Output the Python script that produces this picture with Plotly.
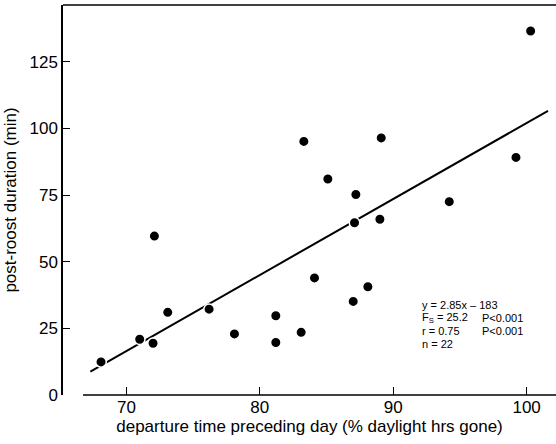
import plotly.graph_objects as go

# data
departure = [68.1, 71.0, 72.0, 72.1, 73.1, 76.2, 78.1, 81.2, 81.2, 83.1, 84.1,
             87.0, 88.1, 87.1, 89.0, 94.2, 100.3, 83.3, 89.1, 99.2, 85.1, 87.2]
duration = [12.4, 20.9, 19.4, 59.6, 31.0, 32.2, 22.9, 29.7, 19.7, 23.5, 43.9,
            35.1, 40.6, 64.6, 65.9, 72.5, 136.5, 95.1, 96.4, 89.1, 81.0, 75.2]
slope, intercept = 2.85, -183.0
fit_x = [67.3, 101.6]
fit_y = [slope * v + intercept for v in fit_x]
x_ticks = [70, 80, 90, 100]
y_ticks = [0, 25, 50, 75, 100, 125]
stats_left = ["y = 2.85x – 183", "F<sub>S</sub> = 25.2", "r = 0.75", "n = 22"]
stats_right = ["", "P<0.001", "P<0.001", ""]

font = "Liberation Sans, Arial, sans-serif"

fig = go.Figure()
fig.add_trace(go.Scatter(x=fit_x, y=fit_y, mode="lines",
                         line=dict(color="black", width=2), hoverinfo="skip"))
fig.add_trace(go.Scatter(x=departure, y=duration, mode="markers",
                         marker=dict(color="black", size=10.5,
                                     line=dict(color="white", width=1.5))))

L, R, T, B = 63, 0, 5, 49
W, H = 556, 444
pw, ph = W - L - R, H - T - B

fig.update_layout(
    width=W, height=H, margin=dict(l=L, r=R, t=T, b=B),
    paper_bgcolor="white", plot_bgcolor="white", showlegend=False,
    font=dict(family=font, color="black"),
    xaxis=dict(range=[65.25, 102.2], tickvals=x_ticks, ticks="inside",
               ticklen=8, tickwidth=1.3, tickcolor="black", showline=False,
               showgrid=False, zeroline=False,
               tickfont=dict(size=17, family=font),
               title=dict(text="departure time preceding day (% daylight hrs gone)",
                          font=dict(size=17, family=font), standoff=4)),
    yaxis=dict(range=[0, 146.25], tickvals=y_ticks, ticks="inside",
               ticklen=7, tickwidth=1.3, tickcolor="black", showline=True,
               linecolor="black", linewidth=1.5, showgrid=False,
               zeroline=False, tickfont=dict(size=17, family=font),
               title=dict(text="post-roost duration (min)",
                          font=dict(size=17, family=font), standoff=9)),
)

# x-axis line (offset from the y axis) and top border
fig.add_shape(type="line", xref="paper", yref="paper",
              x0=(83 - L) / pw, x1=1, y0=0, y1=0,
              line=dict(color="black", width=1.5))
fig.add_shape(type="line", xref="paper", yref="paper",
              x0=0, x1=1, y0=1, y1=1,
              line=dict(color="black", width=1.5))

line_y = [305.0, 318.0, 331.0, 344.0]
for i, (lt, rt) in enumerate(zip(stats_left, stats_right)):
    yp = (H - B - line_y[i]) / ph
    fig.add_annotation(text=lt, xref="paper", yref="paper",
                       x=(420 - L) / pw, y=yp, xanchor="left", yanchor="middle",
                       showarrow=False, font=dict(size=11, family=font))
    if rt:
        fig.add_annotation(text=rt, xref="paper", yref="paper",
                           x=(480 - L) / pw, y=yp, xanchor="left",
                           yanchor="middle", showarrow=False,
                           font=dict(size=11, family=font))

fig.write_html("out.html")
